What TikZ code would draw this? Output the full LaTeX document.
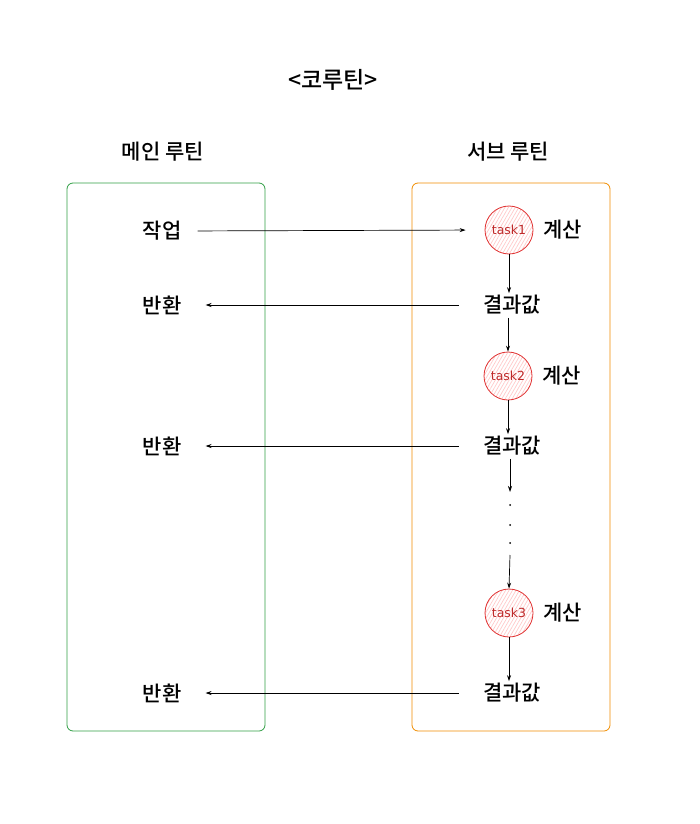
\documentclass[tikz,border=0pt]{standalone}
\usepackage{fontspec}
\setmainfont{Noto Sans CJK KR}[UprightFont=* Medium]
\newfontfamily\taskfont{DejaVu Sans}
\usepackage{tikz}
\usetikzlibrary{arrows.meta, positioning, patterns.meta}

\definecolor{mainGreen}{HTML}{2F9E44}
\definecolor{subOrange}{HTML}{F08C00}
\definecolor{taskRed}{HTML}{E03131}
\definecolor{taskFill}{HTML}{FFC9C9}

\begin{document}
\begin{tikzpicture}[
    x=1pt, y=-1pt,
    txt/.style={font=\fontsize{21}{25}\selectfont, inner sep=0pt},
    routinebox/.style={rectangle, rounded corners=6pt, line width=0.8pt, minimum width=198pt, minimum height=548pt},
    task/.style={circle, draw=taskRed, line width=0.8pt, minimum size=48pt, inner sep=0pt,
        pattern={Lines[angle=60, distance=3pt, line width=0.7pt]}, pattern color=taskFill,
        text=taskRed!85!black, font=\taskfont\fontsize{12.5}{14}\selectfont},
    flow/.style={-{Stealth[length=6pt, width=4pt]}, line width=0.7pt}
]

    \useasboundingbox (0,0) rectangle (700,824);

    % Title
    \node[txt, font=\fontsize{23}{27}\selectfont] (title) at (333,80) {<코루틴>};

    % Routine boxes
    \node[routinebox, draw=mainGreen] (mainbox) at (166,457) {};
    \node[routinebox, draw=subOrange] (subbox) at (511,457) {};
    \node[txt] (maintitle) at (163,152) {메인 루틴};
    \node[txt] (subtitle) at (508,152) {서브 루틴};

    % Main routine
    \node[txt] (work) at (162,231) {작업};
    \node[txt] (back1) at (162,305) {반환};
    \node[txt] (back2) at (162,446) {반환};
    \node[txt] (back3) at (162,693) {반환};

    % Sub routine
    \node[task] (t1) at (509,230) {task1};
    \node[task] (t2) at (508,376) {task2};
    \node[task] (t3) at (509,613) {task3};
    \node[txt, right=10pt of t1] (calc1) {계산};
    \node[txt, right=10pt of t2] (calc2) {계산};
    \node[txt, right=10pt of t3] (calc3) {계산};
    \node[txt] (res1) at (512,305) {결과값};
    \node[txt] (res2) at (512,446) {결과값};
    \node[txt] (res3) at (512,693) {결과값};

    % Dots between task2 and task3
    \coordinate (gapTop) at (510,492);
    \coordinate (gapBot) at (510,555);
    \foreach \y [count=\i] in {505,525,543}
        \node[circle, fill=black, inner sep=0pt, minimum size=2pt] (dot\i) at (510,\y) {};

    % Calls and returns
    \draw[flow, shorten <=16pt, shorten >=19pt] (work.east) -- (t1.west);
    \draw[flow] ([xshift=-24pt]res1.west) -- ([xshift=24pt]back1.east);
    \draw[flow] ([xshift=-24pt]res2.west) -- ([xshift=24pt]back2.east);
    \draw[flow] ([xshift=-24pt]res3.west) -- ([xshift=24pt]back3.east);

    % Sub routine flow
    \draw[flow, shorten >=2pt] (t1.south) -- (t1.south |- res1.north);
    \draw[flow, shorten <=3pt] (t2.north |- res1.south) -- (t2.north);
    \draw[flow, shorten >=2pt] (t2.south) -- (t2.south |- res2.north);
    \draw[flow, shorten <=3pt] (gapTop |- res2.south) -- (gapTop);
    \draw[flow] (gapBot) -- (t3.north);
    \draw[flow, shorten >=2pt] (t3.south) -- (t3.south |- res3.north);

\end{tikzpicture}
\end{document}
